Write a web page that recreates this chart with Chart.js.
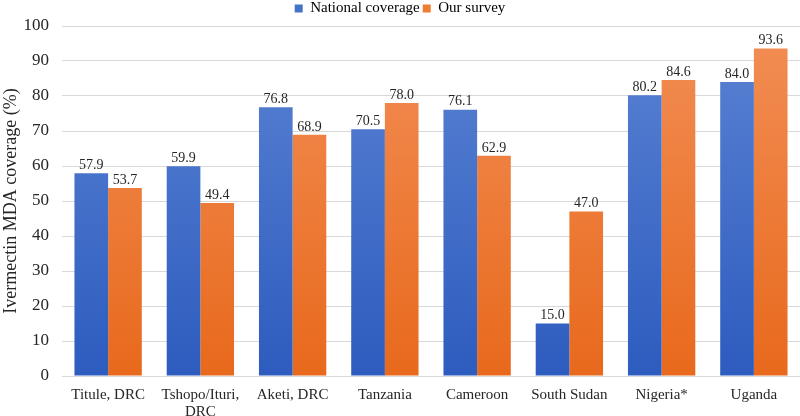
<!DOCTYPE html>
<html>
<head>
<meta charset="utf-8">
<script src="https://cdn.jsdelivr.net/npm/chart.js@4"></script>
<style>
  body { margin: 0; background: #fff; }
  #wrap { width: 800px; height: 416px; }
</style>
</head>
<body>
<div id="wrap"><canvas id="chart" width="800" height="416"></canvas></div>
<script>
const categories = ['Titule, DRC', ['Tshopo/Ituri,', 'DRC'], 'Aketi, DRC', 'Tanzania', 'Cameroon', 'South Sudan', 'Nigeria*', 'Uganda'];
const nationalCoverage = [57.9, 59.9, 76.8, 70.5, 76.1, 15.0, 80.2, 84.0];
const ourSurvey = [53.7, 49.4, 68.9, 78.0, 62.9, 47.0, 84.6, 93.6];
const yTicks = [0, 10, 20, 30, 40, 50, 60, 70, 80, 90, 100];

const FONT = '"Liberation Serif", "Times New Roman", serif';

// gradient fill, lighter on top like the Excel original
function grad(top, bottom) {
  return (context) => {
    const chart = context.chart;
    const area = chart.chartArea;
    if (!area) return bottom;
    const g = chart.ctx.createLinearGradient(0, area.top, 0, area.bottom);
    g.addColorStop(0, top);
    g.addColorStop(1, bottom);
    return g;
  };
}

// value labels above each bar
const barLabels = {
  id: 'barLabels',
  afterDatasetsDraw(chart) {
    const ctx = chart.ctx;
    ctx.save();
    ctx.font = '14px ' + FONT;
    ctx.fillStyle = '#262626';
    ctx.textAlign = 'center';
    ctx.textBaseline = 'bottom';
    chart.data.datasets.forEach((ds, i) => {
      chart.getDatasetMeta(i).data.forEach((bar, j) => {
        ctx.fillText(ds.data[j].toFixed(1), bar.x, bar.y - 1);
      });
    });
    ctx.restore();
  }
};

new Chart(document.getElementById('chart'), {
  type: 'bar',
  data: {
    labels: categories,
    datasets: [
      {
        label: 'National coverage',
        data: nationalCoverage,
        backgroundColor: grad('#5b83d3', '#2d5cbf'),
        categoryPercentage: 0.73,
        barPercentage: 1.0
      },
      {
        label: 'Our survey',
        data: ourSurvey,
        backgroundColor: grad('#f28e55', '#e8691c'),
        categoryPercentage: 0.73,
        barPercentage: 1.0
      }
    ]
  },
  options: {
    responsive: false,
    animation: false,
    layout: { padding: { top: -2, right: 0, left: 0, bottom: 0 } },
    plugins: {
      legend: {
        position: 'top',
        labels: {
          boxWidth: 8,
          boxHeight: 8,
          padding: 3,
          color: '#262626',
          font: { family: FONT, size: 15 },
          generateLabels(chart) {
            const cols = ['#4472c4', '#ed7d31'];
            return chart.data.datasets.map((ds, i) => ({
              text: ds.label,
              fillStyle: cols[i],
              strokeStyle: cols[i],
              lineWidth: 0,
              datasetIndex: i
            }));
          }
        }
      },
      tooltip: { enabled: false }
    },
    scales: {
      x: {
        afterFit(scale) { scale.height = 40; },
        grid: { display: false },
        border: { display: false },
        ticks: { color: '#262626', font: { family: FONT, size: 15, lineHeight: 1.1 }, maxRotation: 0, padding: 3 }
      },
      y: {
        min: 0,
        max: 100,
        afterBuildTicks(scale) { scale.ticks = yTicks.map(v => ({ value: v })); },
        afterFit(scale) { scale.width = 62; },
        grid: { color: '#d9d9d9', lineWidth: 1, drawTicks: false },
        border: { display: false },
        ticks: { color: '#262626', font: { family: FONT, size: 17 }, padding: 13 },
        title: {
          display: true,
          text: 'Ivermectin MDA coverage (%)',
          color: '#262626',
          font: { family: FONT, size: 18 },
          padding: 0
        }
      }
    }
  },
  plugins: [barLabels]
});
</script>
</body>
</html>
